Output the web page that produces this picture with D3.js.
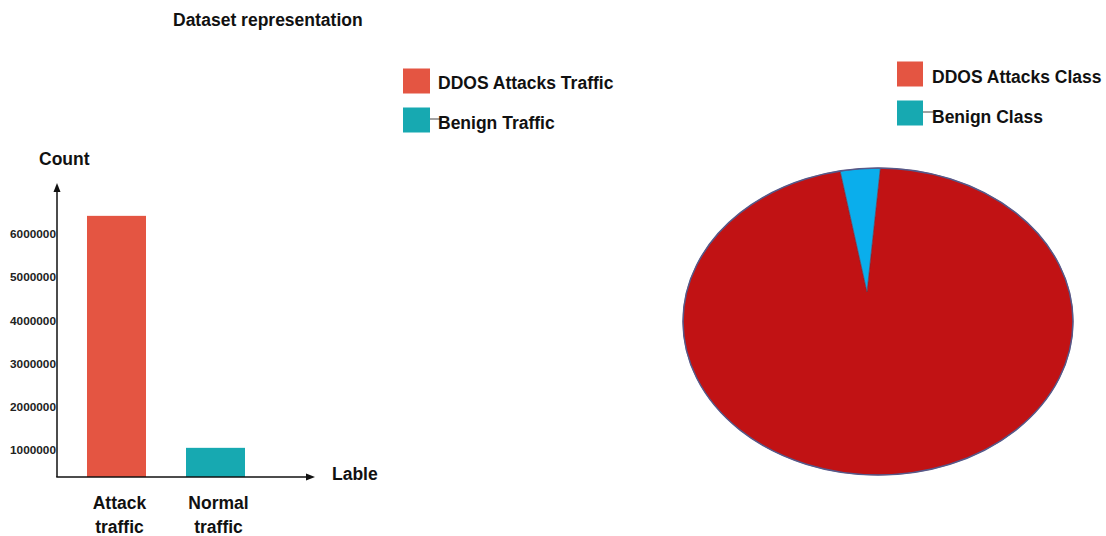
<!DOCTYPE html>
<html>
<head>
<meta charset="utf-8">
<script src="https://cdn.jsdelivr.net/npm/d3@7"></script>
<style>
  html, body { margin: 0; padding: 0; background: #ffffff; }
  svg { display: block; font-family: "Liberation Sans", Arial, sans-serif; }
</style>
</head>
<body>
<svg id="chart" width="1106" height="536"></svg>
<script>
// Bar chart: traffic counts per label
const categories = [["Attack", "traffic"], ["Normal", "traffic"]];
const counts = [6420000, 1050000];
const barColors = ["#e45542", "#17a9b1"];
const yTicks = [1000000, 2000000, 3000000, 4000000, 5000000, 6000000];

// Pie chart: class shares (percent)
const classNames = ["DDOS Attacks Class", "Benign Class"];
const classShares = [96.7, 3.3];
const pieColors = ["#c11214", "#0aaeec"];

// Legends
const barLegend = ["DDOS Attacks Traffic", "Benign Traffic"];
const legendColors = ["#e45542", "#17a9b1"];

const svg = d3.select("#chart");
const ink = "#111111";

// Title
svg.append("text")
  .attr("x", 173).attr("y", 20).attr("dy", "0.35em")
  .attr("font-size", 17.5).attr("font-weight", "bold").attr("fill", ink)
  .text("Dataset representation");

// ---------- Bar chart ----------
const axisX = 57, baseY = 477, axisTop = 183, axisRight = 315;

const x = d3.scaleBand()
  .domain(d3.range(categories.length))
  .range([47, 285])
  .paddingInner(0.404)
  .paddingOuter(0.404);

const y = d3.scaleLinear()
  .domain([1000000, 6000000])
  .range([450, 234]);

const bars = svg.append("g");
bars.selectAll("rect")
  .data(counts)
  .join("rect")
  .attr("x", (d, i) => x(i))
  .attr("width", x.bandwidth())
  .attr("y", d => y(d))
  .attr("height", d => baseY - y(d))
  .attr("fill", (d, i) => barColors[i]);

// y tick labels
svg.append("g").selectAll("text")
  .data(yTicks)
  .join("text")
  .attr("x", axisX - 1)
  .attr("y", d => y(d))
  .attr("dy", "0.35em")
  .attr("text-anchor", "end")
  .attr("font-size", 11.8)
  .attr("font-weight", "bold")
  .attr("fill", "#222")
  .text(d => d3.format("d")(d));

// category labels (two lines each)
const catG = svg.append("g");
categories.forEach((lines, i) => {
  const t = catG.append("text")
    .attr("x", x(i) + x.bandwidth() / 2 + 3)
    .attr("text-anchor", "middle")
    .attr("font-size", 17.5)
    .attr("font-weight", "bold")
    .attr("fill", ink);
  lines.forEach((ln, k) => {
    t.append("tspan")
      .attr("x", x(i) + x.bandwidth() / 2 + 3)
      .attr("y", 503 + k * 24)
      .attr("dy", "0.35em")
      .text(ln);
  });
});

// axes with arrowheads
const axes = svg.append("g").attr("stroke", ink).attr("fill", "none");
axes.append("line")
  .attr("x1", axisX).attr("y1", baseY)
  .attr("x2", axisX).attr("y2", axisTop + 6)
  .attr("stroke-width", 1.5);
axes.append("line")
  .attr("x1", axisX - 0.75).attr("y1", baseY)
  .attr("x2", axisRight - 6).attr("y2", baseY)
  .attr("stroke-width", 1.5);
svg.append("path")
  .attr("d", `M${axisX},${axisTop} L${axisX - 3.5},${axisTop + 9} L${axisX + 3.5},${axisTop + 9} Z`)
  .attr("fill", ink);
svg.append("path")
  .attr("d", `M${axisRight},${baseY} L${axisRight - 9},${baseY - 3.5} L${axisRight - 9},${baseY + 3.5} Z`)
  .attr("fill", ink);

svg.append("text")
  .attr("x", 39).attr("y", 159).attr("dy", "0.35em")
  .attr("font-size", 17.5).attr("font-weight", "bold").attr("fill", ink)
  .text("Count");
svg.append("text")
  .attr("x", 332).attr("y", 474).attr("dy", "0.35em")
  .attr("font-size", 17.5).attr("font-weight", "bold").attr("fill", ink)
  .text("Lable");

// ---------- Legends ----------
function legend(items, colors, sx, tx, rows, textRows, sw, sh, connector) {
  const g = svg.append("g");
  items.forEach((name, i) => {
    const ry = rows[i];
    g.append("rect")
      .attr("x", sx).attr("y", ry - sh / 2)
      .attr("width", sw).attr("height", sh)
      .attr("fill", colors[i]);
    if (i === 1) {
      g.append("line")
        .attr("x1", sx + sw).attr("x2", sx + sw + connector)
        .attr("y1", ry - 1).attr("y2", ry - 1)
        .attr("stroke", "#444").attr("stroke-width", 1);
    }
    g.append("text")
      .attr("x", tx).attr("y", textRows[i]).attr("dy", "0.35em")
      .attr("font-size", 17.5).attr("font-weight", "bold").attr("fill", ink)
      .text(name);
  });
}
legend(barLegend, legendColors, 403, 438, [81, 120], [83, 123], 27, 25, 12);
legend(classNames, legendColors, 897, 932, [74, 113], [77, 117], 26, 25, 13);

// ---------- Pie (elliptical) ----------
const cx = 878, cy = 321.5, rx = 195, ry = 153.5;
const apex = [867, 292];
const pie = d3.pie().startAngle(0.012).endAngle(2 * Math.PI + 0.012)(classShares);

function rim(a) {
  return [cx + rx * Math.sin(a), cy - ry * Math.cos(a)];
}
function slicePath(s) {
  const p0 = rim(s.startAngle), p1 = rim(s.endAngle);
  const large = (s.endAngle - s.startAngle) > Math.PI ? 1 : 0;
  return `M${apex[0]},${apex[1]} L${p0[0]},${p0[1]} A${rx},${ry} 0 ${large} 1 ${p1[0]},${p1[1]} Z`;
}

const pg = svg.append("g");
pg.selectAll("path")
  .data(pie)
  .join("path")
  .attr("d", slicePath)
  .attr("fill", (d, i) => pieColors[i])
  .attr("stroke", "#7a2a3a")
  .attr("stroke-width", 0.6)
  .attr("stroke-linejoin", "round");

pg.append("ellipse")
  .attr("cx", cx).attr("cy", cy).attr("rx", rx).attr("ry", ry)
  .attr("fill", "none")
  .attr("stroke", "#55598a")
  .attr("stroke-width", 1.5);
</script>
</body>
</html>
